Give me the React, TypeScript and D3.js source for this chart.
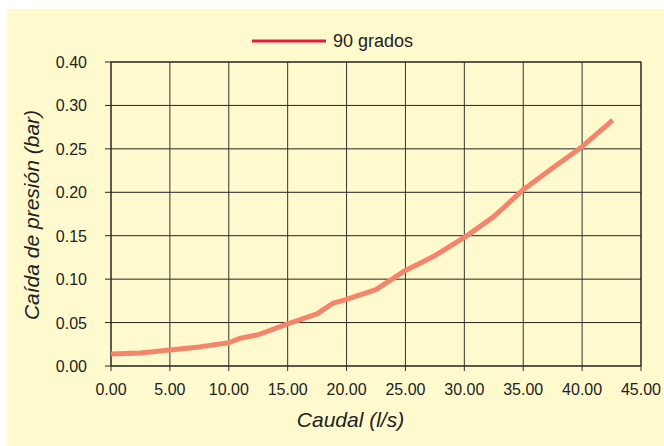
import * as React from 'react';
import * as d3 from "d3";

// caudal (l/s) vs caída de presión (bar)
const caudal = [0, 2.5, 5, 7.5, 10, 11, 12.5, 15, 17.5, 18.8, 20, 22.5, 25, 27.5, 30, 32.5, 35, 37.5, 40, 42.6];
const presion = [0.0137, 0.015, 0.0184, 0.022, 0.0268, 0.032, 0.036, 0.0484, 0.060, 0.072, 0.0768, 0.088, 0.110, 0.127, 0.148, 0.172, 0.203, 0.228, 0.2525, 0.283];

const xTicks = [0, 5, 10, 15, 20, 25, 30, 35, 40, 45];
const yTicks = [0, 0.05, 0.1, 0.15, 0.2, 0.25, 0.3, 0.35];
const yTickLabels = ["0.00", "0.05", "0.10", "0.15", "0.20", "0.25", "0.30", "0.40"];

const serieName = "90 grados";

const W = 664, H = 446;
const left = 111, right = 641, top = 62, bottom = 366;
const font = "'Liberation Sans', Arial, sans-serif";

export default function App() {
    const x = d3.scaleLinear().domain([0, 45]).range([left, right]);
    const y = d3.scaleLinear().domain([0, 0.35]).range([bottom, top]);

    const points = caudal.map((c, i) => ({ x: c, y: presion[i] }));
    const line = d3.line<{ x: number, y: number }>()
        .curve(d3.curveLinear)
        .x(p => x(p.x))
        .y(p => y(p.y));

    return (
        <svg width={W} height={H} style={{ position: "absolute", left: 0, top: 0 }} fontFamily={font}>
            <rect x={0} y={0} width={W} height={H} fill="#fff" />
            <rect x={7} y={9} width={W - 7} height={H - 9} fill="#fffacd" />

            {/* legend */}
            <line x1={252} x2={326} y1={41} y2={41} stroke="#e8193c" strokeWidth={3} />
            <text x={333} y={47} fontSize={18} fill="#222">{serieName}</text>

            {/* grid */}
            {yTicks.map((t, i) => (
                <g key={"y" + i}>
                    <line x1={left - 6} x2={right} y1={y(t)} y2={y(t)} stroke="#222" strokeWidth={1} />
                    <text x={87} y={y(t) + 6} textAnchor="end" fontSize={16} fill="#222">{yTickLabels[i]}</text>
                </g>
            ))}
            {xTicks.map((t, i) => (
                <g key={"x" + i}>
                    <line x1={x(t)} x2={x(t)} y1={top} y2={bottom + 5} stroke="#333" strokeWidth={1} />
                    <text x={x(t)} y={395} textAnchor="middle" fontSize={16} fill="#222">{t.toFixed(2)}</text>
                </g>
            ))}
            <rect x={left} y={top} width={right - left} height={bottom - top} fill="none" stroke="#222" strokeWidth={1} />

            <path d={line(points) || undefined} fill="none" stroke="#f4846a" strokeWidth={5} strokeLinejoin="round" />

            {/* axis titles */}
            <text x={350.5} y={427} textAnchor="middle" fontSize={21} fontStyle="italic" fill="#222">Caudal (l/s)</text>
            <text transform={`translate(39,215) rotate(-90)`} textAnchor="middle" fontSize={21} fontStyle="italic" fill="#222">Caída de presión (bar)</text>
        </svg>
    );
}
